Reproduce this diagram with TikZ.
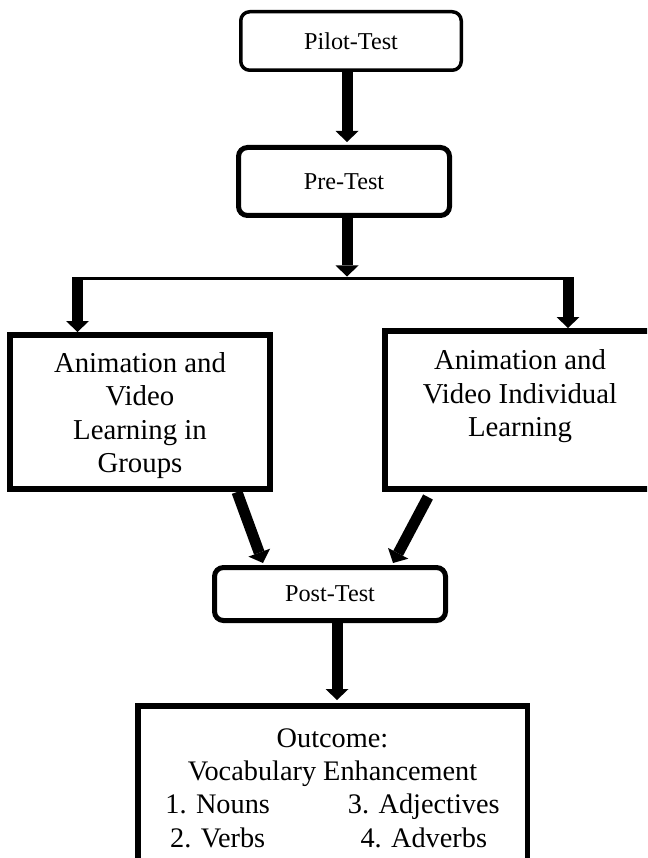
\documentclass[tikz,border=0pt]{standalone}
\usepackage{fontspec}
\setmainfont{Liberation Serif}
\usetikzlibrary{arrows.meta,calc}
\begin{document}
\begin{tikzpicture}[x=1pt,y=-1pt,
  fat/.style={line width=11pt,-{Triangle[width=23pt,length=11pt,line width=0pt]}},
  roundbox/.style={draw,rounded corners=9pt,inner sep=0pt,font=\fontsize{24.2}{27}\selectfont},
  squarebox/.style={draw,inner sep=0pt,line width=6pt,font=\fontsize{28.8}{33.5}\selectfont},
]
\useasboundingbox (0,0) rectangle (647,858);
\clip (0,0) rectangle (647,858);
\node[roundbox,line width=3.5pt,minimum width=220.5pt,minimum height=58.5pt] (pilot) at (351,41) {Pilot-Test};
\node[roundbox,line width=5pt,minimum width=211pt,minimum height=68pt] (pre) at (344,181.5) {Pre-Test};
\node[squarebox,minimum width=260pt,minimum height=154pt,text depth=2.5pt] (lbox) at (140,412)
  {\begin{tabular}[b]{@{}c@{}}Animation and\\Video\\Learning in\\Groups\end{tabular}};
\node[squarebox,minimum width=270pt,minimum height=158pt,text depth=36.5pt] (rbox) at (520,410)
  {\begin{tabular}[b]{@{}c@{}}Animation and\\Video Individual\\Learning\end{tabular}};
\node[roundbox,line width=5pt,minimum width=231pt,minimum height=53pt] (post) at (330,594) {Post-Test};
\node[draw,line width=5.5pt,inner sep=0pt,minimum width=389.5pt,minimum height=169.3pt,
  font=\fontsize{28.3}{33.3}\selectfont] (out) at (332.5,790.4)
  {\begin{tabular}{@{}c@{\hspace{78pt}}c@{}}\multicolumn{2}{c}{Outcome:}\\
   \multicolumn{2}{c}{Vocabulary Enhancement}\\
   1. Nouns & 3. Adjectives\\
   2. Verbs & 4. Adverbs\end{tabular}};
% connectors
\coordinate (ax) at (347,0);
\coordinate (splitT) at (347,276.5);
\coordinate (hl) at (72,278.5);
\coordinate (hr) at (573,278.5);
\coordinate (sl) at (77.5,277);
\coordinate (sr) at (568,277);
\coordinate (dl1) at (237,0);
\coordinate (dl2) at (263,0);
\coordinate (dr1) at (428,0);
\coordinate (dr2) at (393,0);
\coordinate (ox) at (337,0);
\draw[fat] (pilot.south -| ax) -- ($(pre.north -| ax)+(0,-3)$);
\draw[fat] (pre.south -| ax) -- (splitT);
\draw[line width=3.5pt] (hl) -- (hr);
\draw[fat] (sl) -- (sl |- lbox.north);
\draw[fat] (sr) -- (sr |- rbox.north);
\draw[fat] (dl1 |- lbox.south) -- ($(dl2 |- post.north)+(0,-2)$);
\draw[fat] ($(dr1 |- rbox.south)+(0,5)$) -- ($(dr2 |- post.north)+(0,-2)$);
\draw[fat] (post.south -| ox) -- ($(out.north -| ox)+(0,-3)$);
\end{tikzpicture}
\end{document}
